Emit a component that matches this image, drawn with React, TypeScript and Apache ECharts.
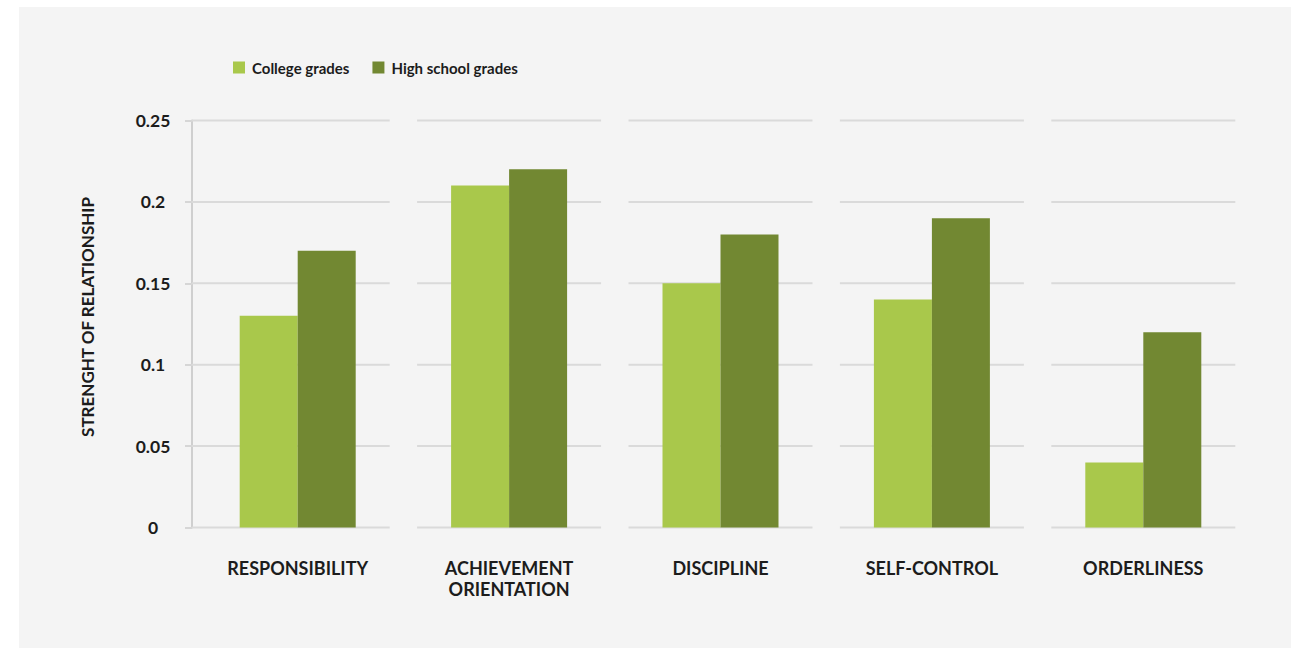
import React, { useEffect, useRef } from "react";
import * as echarts from "echarts";

const categories = ["RESPONSIBILITY", "ACHIEVEMENT\nORIENTATION", "DISCIPLINE", "SELF-CONTROL", "ORDERLINESS"];
const collegeGrades = [0.13, 0.21, 0.15, 0.14, 0.04];
const highSchoolGrades = [0.17, 0.22, 0.18, 0.19, 0.12];
const yTicks = [0, 0.05, 0.1, 0.15, 0.2, 0.25];

const FONT = "Lato, 'Open Sans', sans-serif";
const TEXT = "#1c1c1c";

export default function App() {
  const ref = useRef<HTMLDivElement>(null);
  useEffect(() => {
    document.body.style.margin = "0";
    if (!ref.current) return;
    const chart = echarts.init(ref.current, null, { renderer: "svg" });
    chart.setOption({
      animation: false,
      backgroundColor: "transparent",
      textStyle: { fontFamily: FONT },
      legend: {
        left: 228,
        top: 55,
        itemWidth: 12,
        itemGap: 23,
        itemHeight: 12,
        icon: "rect",
        textStyle: { fontFamily: FONT, fontWeight: "bold", fontSize: 15, color: TEXT, padding: [0, 0, 0, 2] },
        data: ["College grades", "High school grades"],
      },
      grid: { left: 192, top: 120.5, width: 1057, height: 407, containLabel: false },
      xAxis: {
        type: "category",
        data: categories,
        axisLine: { show: false },
        axisTick: { show: false },
        axisLabel: {
          margin: 30,
          fontFamily: FONT,
          fontWeight: "bold",
          fontSize: 18,
          lineHeight: 21,
          color: TEXT,
          interval: 0,
        },
      },
      yAxis: {
        type: "value",
        min: 0,
        max: 0.25,
        interval: 0.05,
        name: "STRENGHT OF RELATIONSHIP",
        nameLocation: "middle",
        nameGap: 96,
        nameRotate: 90,
        nameTextStyle: { fontFamily: FONT, fontWeight: "bold", fontSize: 17, color: TEXT, padding: [0, 0, 0, 14] },
        axisLine: { show: true, lineStyle: { color: "#cfcfcf", width: 2 } },
        axisTick: { show: true, length: 7, lineStyle: { color: "#d6d6d6", width: 2 } },
        splitLine: { show: false },
        axisLabel: {
          align: "center",
          margin: 39,
          fontFamily: FONT,
          fontWeight: "bold",
          fontSize: 17.5,
          color: TEXT,
          formatter: (v: number) => String(Math.round(v * 100) / 100),
        },
      },
      series: [
        {
          type: "custom",
          name: "grid",
          silent: true,
          z: 1,
          data: categories.map((_, i) => i),
          renderItem: (params: any, api: any) => {
            const i = api.value(0);
            const cx = api.coord([i, 0])[0];
            const cs = params.coordSys;
            const left = i === 0 ? cs.x : cx - 92;
            const right = cx + 92;
            return {
              type: "group",
              children: yTicks.map((t) => {
                const y = api.coord([i, t])[1];
                return {
                  type: "line",
                  shape: { x1: left, y1: y, x2: right, y2: y },
                  style: { stroke: "#dadada", lineWidth: 2 },
                };
              }),
            };
          },
        },
        {
          type: "bar",
          name: "College grades",
          data: collegeGrades,
          barWidth: 58,
          barGap: "0%",
          z: 2,
          itemStyle: { color: "#a9c84b" },
        },
        {
          type: "bar",
          name: "High school grades",
          data: highSchoolGrades,
          barWidth: 58,
          barGap: "0%",
          z: 2,
          itemStyle: { color: "#728832" },
        },
      ],
    });
    return () => chart.dispose();
  }, []);

  return (
    <div style={{ position: "absolute", left: 0, top: 0, width: 1291, height: 648, background: "#ffffff", overflow: "hidden" }}>
      <div style={{ position: "absolute", left: 19, top: 7, width: 1272, height: 641, background: "#f4f4f4" }} />
      <div ref={ref} style={{ position: "absolute", left: 0, top: 0, width: 1291, height: 648 }} />
    </div>
  );
}
